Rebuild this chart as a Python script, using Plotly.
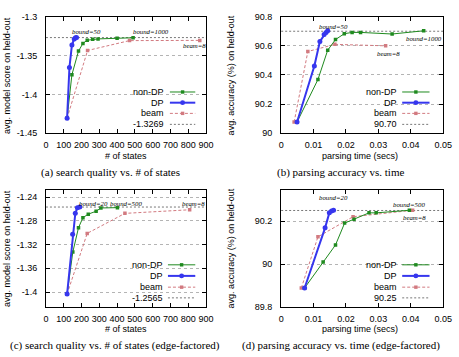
import plotly.graph_objects as go

W, H = 459, 357

# ---------------- data ----------------
# (a) search quality vs. # of states
a_nondp_states = [119, 146, 183, 208, 232, 263, 293, 400, 490]
a_nondp_score = [-1.4305, -1.3746, -1.3443, -1.3344, -1.3303, -1.3290, -1.3286, -1.3278, -1.3271]
a_dp_states = [119, 132, 146, 159, 166, 172]
a_dp_score = [-1.4305, -1.3655, -1.3365, -1.3286, -1.3272, -1.3267]
a_beam_states = [119, 234, 470, 865]
a_beam_score = [-1.4305, -1.3435, -1.3308, -1.3305]
a_ref = -1.3269

# (b) parsing accuracy vs. time
b_nondp_time = [0.0049, 0.01135, 0.01436, 0.01677, 0.01948, 0.02189, 0.0245, 0.03424, 0.04398]
b_nondp_acc = [90.077, 90.369, 90.570, 90.643, 90.683, 90.692, 90.692, 90.681, 90.703]
b_dp_time = [0.0049, 0.01024, 0.01195, 0.01325, 0.01386, 0.01436]
b_dp_acc = [90.077, 90.462, 90.630, 90.678, 90.692, 90.703]
b_beam_time = [0.0040, 0.00823, 0.01657, 0.03223]
b_beam_acc = [90.077, 90.561, 90.610, 90.600]
b_ref = 90.70

# (c) search quality vs. # of states (edge-factored)
c_nondp_states = [119, 151, 183, 208, 238, 282, 309, 402]
c_nondp_score = [-1.4033, -1.3326, -1.2915, -1.2745, -1.2685, -1.2636, -1.2581, -1.2575]
c_dp_states = [119, 150, 165, 177, 190]
c_dp_score = [-1.4033, -1.3025, -1.2672, -1.2575, -1.2565]
c_beam_states = [119, 232, 444, 808]
c_beam_score = [-1.4033, -1.3010, -1.2672, -1.2611]
c_ref = -1.2565

# (d) parsing accuracy vs. time (edge-factored)
d_nondp_time = [0.00723, 0.01295, 0.01677, 0.01958, 0.02249, 0.02711, 0.02932, 0.03956]
d_nondp_acc = [89.888, 90.009, 90.089, 90.191, 90.209, 90.239, 90.239, 90.251]
d_dp_time = [0.00723, 0.01355, 0.01486, 0.01556, 0.01616]
d_dp_acc = [89.888, 90.169, 90.239, 90.248, 90.251]
d_beam_time = [0.00622, 0.01135, 0.02219, 0.04056]
d_beam_acc = [89.888, 90.127, 90.221, 90.251]
d_ref = 90.25

# ticks
states_ticks = [0, 100, 200, 300, 400, 500, 600, 700, 800, 900]
states_labels = ["0", "100", "200", "300", "400", "500", "600", "700", "800", "900"]
time_ticks = [0, 0.01, 0.02, 0.03, 0.04, 0.05]
time_labels = ["0", "0.01", "0.02", "0.03", "0.04", "0.05"]
a_yticks = [-1.45, -1.4, -1.35, -1.3]
a_ylabels = ["-1.45", "-1.4", "-1.35", "-1.3"]
b_yticks = [90, 90.2, 90.4, 90.6, 90.8]
b_ylabels = ["90", "90.2", "90.4", "90.6", "90.8"]
c_yticks = [-1.4, -1.36, -1.32, -1.28, -1.24]
c_ylabels = ["-1.4", "-1.36", "-1.32", "-1.28", "-1.24"]
d_yticks = [89.8, 90, 90.2]
d_ylabels = ["89.8", "90", "90.2"]

series_names = ["non-DP", "DP", "beam"]
captions = ["(a) search quality vs. # of states",
            "(b) parsing accuracy vs. time",
            "(c) search quality vs. # of states (edge-factored)",
            "(d) parsing accuracy vs. time (edge-factored)"]

# ---------------- styling ----------------
SANS = "Liberation Sans, Arial, sans-serif"
SERIF = "Liberation Serif, Times New Roman, serif"
GREEN = "#1f8a1f"
BLUE = "#3636ee"
RED = "#d27a80"
REFC = "#555555"
GRID = "#b4b4b4"

def px(x):
    return x / W

def py(y):
    return 1 - y / H

panels = [
    dict(key="", xd=(44, 208), yd=(12, 132), xr=[0, 900], yr=[-1.45, -1.3],
         xt=(states_ticks, states_labels), yt=(a_yticks, a_ylabels),
         nd=(a_nondp_states, a_nondp_score), dp=(a_dp_states, a_dp_score),
         bm=(a_beam_states, a_beam_score), ref=a_ref, reflab="-1.3269",
         xtitle="# of states", ytitle="avg. model score on held-out",
         labels=[("bound=50", 137, -1.3188), ("bound=1000", 477, -1.3188), ("beam=8", 757, -1.3371)],
         leg_text_x=167.5, leg_line=(171, 197), leg_rows=(89.5, 100.5, 111.5, 122.8),
         cap_x=110, cap_y=172, xt_x=126.5, xt_y=155, yt_x=4, yt_y=72),
    dict(key="2", xd=(285, 451), yd=(12, 132), xr=[0, 0.05], yr=[90, 90.8],
         xt=(time_ticks, time_labels), yt=(b_yticks, b_ylabels),
         nd=(b_nondp_time, b_nondp_acc), dp=(b_dp_time, b_dp_acc),
         bm=(b_beam_time, b_beam_acc), ref=b_ref, reflab="90.70",
         xtitle="parsing time (secs)", ytitle="avg. accuracy (%) on held-out",
         labels=[("bound=50", 0.0112, 90.731), ("bound=1000", 0.0378, 90.651), ("beam=8", 0.0291, 90.547)],
         leg_text_x=405.7, leg_line=(409, 437), leg_rows=(89.5, 100.5, 111.5, 122.8),
         cap_x=346, cap_y=172, xt_x=366, xt_y=155, yt_x=234, yt_y=72),
    dict(key="3", xd=(44, 208), yd=(190.5, 310.5), xr=[0, 900], yr=[-1.425, -1.228],
         xt=(states_ticks, states_labels), yt=(c_yticks, c_ylabels),
         nd=(c_nondp_states, c_nondp_score), dp=(c_dp_states, c_dp_score),
         bm=(c_beam_states, c_beam_score), ref=c_ref, reflab="-1.2565",
         xtitle="# of states", ytitle="avg. model score on held-out",
         labels=[("bound=20", 176, -1.2511), ("bound=500", 347, -1.2511), ("beam=8", 756, -1.2511)],
         leg_text_x=166, leg_line=(169, 197), leg_rows=(267.3, 278.7, 290.3, 301.3),
         cap_x=115, cap_y=350, xt_x=126.5, xt_y=333, yt_x=4, yt_y=250),
    dict(key="4", xd=(285, 451), yd=(190.5, 310.5), xr=[0, 0.05], yr=[89.8, 90.345],
         xt=(time_ticks, time_labels), yt=(d_yticks, d_ylabels),
         nd=(d_nondp_time, d_nondp_acc), dp=(d_dp_time, d_dp_acc),
         bm=(d_beam_time, d_beam_acc), ref=d_ref, reflab="90.25",
         xtitle="parsing time (secs)", ytitle="avg. accuracy (%) on held-out",
         labels=[("bound=20", 0.0110, 90.311), ("bound=500", 0.0338, 90.278), ("beam=8", 0.0370, 90.215)],
         leg_text_x=405.7, leg_line=(409, 437), leg_rows=(267.3, 278.7, 290.3, 301.3),
         cap_x=346, cap_y=350, xt_x=366, xt_y=333, yt_x=234, yt_y=250),
]

fig = go.Figure()
layout = dict(width=W, height=H, margin=dict(l=0, r=0, t=0, b=0),
              paper_bgcolor="white", plot_bgcolor="white", showlegend=False)
annotations = []
shapes = []

for i, p in enumerate(panels):
    k = p["key"]
    xa, ya = "x" + k, "y" + k
    # traces
    fig.add_trace(go.Scatter(x=p["bm"][0], y=p["bm"][1], mode="lines+markers",
                             line=dict(color=RED, width=1, dash="3px,2px"),
                             marker=dict(symbol="square", size=3.5, color=RED),
                             xaxis=xa, yaxis=ya, name=series_names[2]))
    fig.add_trace(go.Scatter(x=p["nd"][0], y=p["nd"][1], mode="lines+markers",
                             line=dict(color=GREEN, width=1),
                             marker=dict(symbol="square", size=3.5, color=GREEN),
                             xaxis=xa, yaxis=ya, name=series_names[0]))
    fig.add_trace(go.Scatter(x=p["dp"][0], y=p["dp"][1], mode="lines+markers",
                             line=dict(color=BLUE, width=2),
                             marker=dict(symbol="circle", size=5, color=BLUE),
                             xaxis=xa, yaxis=ya, name=series_names[1]))
    # reference line
    shapes.append(dict(type="line", xref=xa + " domain", yref=ya, x0=0, x1=1,
                       y0=p["ref"], y1=p["ref"], line=dict(color=REFC, width=0.8, dash="2px,2px"),
                       layer="below"))
    # axes
    layout["xaxis" + k] = dict(domain=[px(p["xd"][0]), px(p["xd"][1])], range=p["xr"],
                               anchor=ya, showline=True, linecolor="black", linewidth=1,
                               mirror="ticks", ticks="inside", ticklen=4, tickcolor="black",
                               tickvals=p["xt"][0], ticktext=p["xt"][1], showgrid=False,
                               zeroline=False, ticklabelstandoff=3,
                               tickfont=dict(family=SANS, size=9, color="black"))
    layout["yaxis" + k] = dict(domain=[py(p["yd"][1]), py(p["yd"][0])], range=p["yr"],
                               anchor=xa, showline=True, linecolor="black", linewidth=1,
                               mirror="ticks", ticks="inside", ticklen=4, tickcolor="black",
                               tickvals=p["yt"][0], ticktext=p["yt"][1], showgrid=True,
                               gridcolor=GRID, griddash="dot", gridwidth=1,
                               zeroline=False, ticklabelstandoff=6,
                               tickfont=dict(family=SANS, size=9, color="black"))
    # in-plot labels
    for txt, lx, ly in p["labels"]:
        annotations.append(dict(text="<i>" + txt + "</i>", x=lx, y=ly, xref=xa, yref=ya,
                                xanchor="left", yanchor="middle", showarrow=False,
                                font=dict(family=SERIF, size=6.8, color="black")))
    # titles and caption
    annotations.append(dict(text=p["xtitle"], x=px(p["xt_x"]), y=py(p["xt_y"]), xref="paper",
                            yref="paper", xanchor="center", yanchor="middle", showarrow=False,
                            font=dict(family=SANS, size=9, color="black")))
    annotations.append(dict(text=p["ytitle"], x=px(p["yt_x"]), y=py(p["yt_y"]), xref="paper",
                            yref="paper", xanchor="center", yanchor="middle", showarrow=False,
                            textangle=-90, font=dict(family=SANS, size=9, color="black")))
    annotations.append(dict(text=captions[i], x=px(p["cap_x"]), y=py(p["cap_y"]),
                            xref="paper", yref="paper", xanchor="center", yanchor="middle",
                            showarrow=False, font=dict(family=SERIF, size=11, color="black")))
    # legend (gnuplot style: text right-aligned, sample to the right)
    leg_labels = series_names + [p["reflab"]]
    styles = [(GREEN, 1, "solid", "square", 3.5), (BLUE, 2, "solid", "circle", 5),
              (RED, 1, "3px,2px", "square", 3.5), (REFC, 0.8, "2px,2px", None, 0)]
    lx0, lx1 = p["leg_line"]
    for lab, ry, st in zip(leg_labels, p["leg_rows"], styles):
        annotations.append(dict(text=lab, x=px(p["leg_text_x"]), y=py(ry), xref="paper",
                                yref="paper", xanchor="right", yanchor="middle", showarrow=False,
                                font=dict(family=SANS, size=9, color="black")))
        shapes.append(dict(type="line", xref="paper", yref="paper", x0=px(lx0), x1=px(lx1),
                           y0=py(ry), y1=py(ry), line=dict(color=st[0], width=st[1], dash=st[2])))
        if st[3]:
            cx = (lx0 + lx1) / 2
            r = st[4] / 2
            shapes.append(dict(type="rect" if st[3] == "square" else "circle", xref="paper",
                               yref="paper", x0=px(cx - r), x1=px(cx + r), y0=py(ry + r),
                               y1=py(ry - r), fillcolor=st[0], line=dict(width=0)))

layout["annotations"] = annotations
layout["shapes"] = shapes
fig.update_layout(**layout)
fig.write_html("out.html")
